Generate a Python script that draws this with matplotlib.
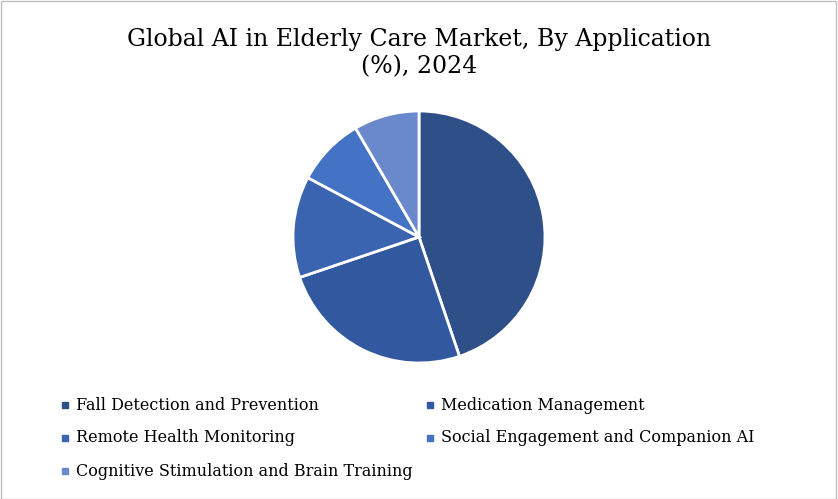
import matplotlib.pyplot as plt
from matplotlib.patches import Rectangle

labels = ['Fall Detection and Prevention', 'Medication Management',
          'Remote Health Monitoring', 'Social Engagement and Companion AI',
          'Cognitive Stimulation and Brain Training']
shares = [44.8, 25.0, 13.0, 8.8, 8.4]
colors = ['#2F4F88', '#3258A0', '#3A63B0', '#4472C4', '#6A88CC']

plt.rcParams['font.family'] = 'DejaVu Serif'
fig = plt.figure(figsize=(8.38, 4.99), dpi=100)
fig.patches.append(Rectangle((0.001, 0.001), 0.997, 0.997, transform=fig.transFigure,
                             fill=False, edgecolor='#BFBFBF', linewidth=1))
fig.text(0.5, 1 - 53 / 499, 'Global AI in Elderly Care Market, By Application\n(%), 2024',
         ha='center', va='center', fontsize=17, linespacing=1.25)

ax = fig.add_axes([0.5 - 126 / 838, 1 - (237 + 126) / 499, 252 / 838, 252 / 499])
ax.pie(shares, colors=colors, startangle=90, counterclock=False, radius=1,
       wedgeprops=dict(edgecolor='white', linewidth=2))
ax.set_xlim(-1, 1)
ax.set_ylim(-1, 1)
ax.set_aspect('equal')

pos = [(62, 405), (427, 405), (62, 438), (427, 438), (62, 471)]
for (x, y), lab, c in zip(pos, labels, colors):
    fig.patches.append(Rectangle((x / 838, 1 - (y + 3) / 499), 6 / 838, 6 / 499,
                                 transform=fig.transFigure, color=c))
    fig.text((x + 14) / 838, 1 - y / 499, lab, ha='left', va='center', fontsize=11.5)

fig.savefig('out.png', dpi=100)
